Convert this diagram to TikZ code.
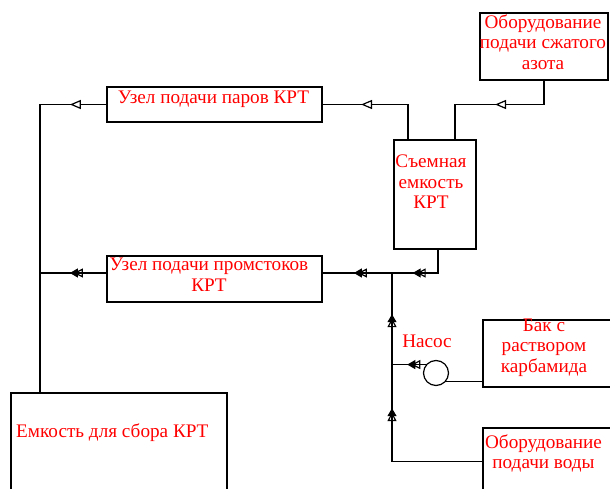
\documentclass[tikz,border=0pt]{standalone}
\usepackage{fontspec}
\setmainfont{Liberation Serif}
\newfontfamily\boxfont{Liberation Serif}
\usetikzlibrary{arrows.meta,decorations.markings}

\begin{document}
\begin{tikzpicture}[
  x=1pt, y=-1pt,
  box/.style={draw, line width=1.2pt, inner sep=0pt},
  txt/.style={text=red, font=\boxfont\fontsize{19.2}{20.5}\selectfont, align=center, inner sep=0pt},
  pipe/.style={line width=1.2pt, line cap=rect},
  oarr/.style={pipe, postaction={decorate}, decoration={markings,
     mark=at position 0.55 with {\arrow{Triangle[fill=white, length=11pt, width=9pt]}}}},
  darr/.style={pipe, postaction={decorate}, decoration={markings,
     mark=at position 0.55 with {\arrow{Triangle[open, length=9pt, width=9pt, sep=-4pt] Triangle[length=8pt, width=9pt]}}}}
]
\useasboundingbox (0,0) rectangle (610,489);

% boxes
\node[box, minimum width=128pt, minimum height=67pt] (azot) at (544,46.5) {};
\node[box, minimum width=215pt, minimum height=35pt] (vapour) at (214.5,104.5) {};
\node[box, minimum width=82pt, minimum height=109pt] (sem) at (435,194.5) {};
\node[box, minimum width=215pt, minimum height=46pt] (prom) at (214.5,279) {};
\node[box, minimum width=129pt, minimum height=67pt] (bak) at (547.5,353.5) {};
\node[box, minimum width=129pt, minimum height=67pt] (water) at (547.5,461.5) {};
\node[box, minimum width=216pt, minimum height=107pt] (sbor) at (119,446.5) {};
\node[box, circle, minimum size=25pt] (pump) at (436,373) {};

% texts (base = last line)
\node[txt, anchor=base] (azot-t) at (543,69.5) {Оборудование\\подачи сжатого\\азота};
\node[txt, anchor=base] (vapour-t) at (213.5,103.5) {Узел подачи паров КРТ};
\node[txt, anchor=base] (sem-t) at (431,208.5) {Съемная\\емкость\\КРТ};
\node[txt, anchor=base] (prom-t) at (209,291) {Узел подачи промстоков\\КРТ};
\node[txt, anchor=base] (bak-t) at (544,372) {Бак с\\раствором\\карбамида};
\node[txt, anchor=base] (water-t) at (543.5,468.5) {Оборудование\\подачи воды};
\node[txt, anchor=base west] (sbor-t) at (16,437) {Емкость для сбора КРТ};
\node[txt, anchor=base] (pump-t) at (427,347) {Насос};

% junctions
\coordinate (tl) at (40,104.5);
\coordinate (j1) at (392,273);
\coordinate (j2) at (pump.140 -| j1);
\coordinate (s1) at ([xshift=-27pt]sem.north);
\coordinate (s2) at ([xshift=20pt]sem.north);
\coordinate (s3) at ([xshift=3pt]sem.south);

% upper line
\draw[pipe] (azot.south) -- (azot.south |- vapour.east);
\draw[oarr] (azot.south |- vapour.east) -- (s2 |- vapour.east);
\draw[pipe] (s2 |- vapour.east) -- (s2);
\draw[pipe] (s1) -- (s1 |- vapour.east);
\draw[oarr] (s1 |- vapour.east) -- (vapour.east);
\draw[oarr] (vapour.west) -- (tl);
\draw[pipe] (tl) -- (tl |- sbor.north);

% lower line
\draw[pipe] (s3) -- (s3 |- j1);
\draw[darr] (s3 |- j1) -- (j1);
\draw[darr] (j1) -- (prom.east |- j1);
\draw[darr] (prom.west |- j1) -- (tl |- j1);
\draw[darr] (j2) -- (j1);
\draw[darr] (j2 |- water.west) -- (j2);
\draw[pipe] (water.west) -- (j2 |- water.west);
\draw[darr] (pump.140) -- (j2);
\draw[pipe] (pump.-40) -- (pump.-40 -| bak.west);
\end{tikzpicture}
\end{document}
